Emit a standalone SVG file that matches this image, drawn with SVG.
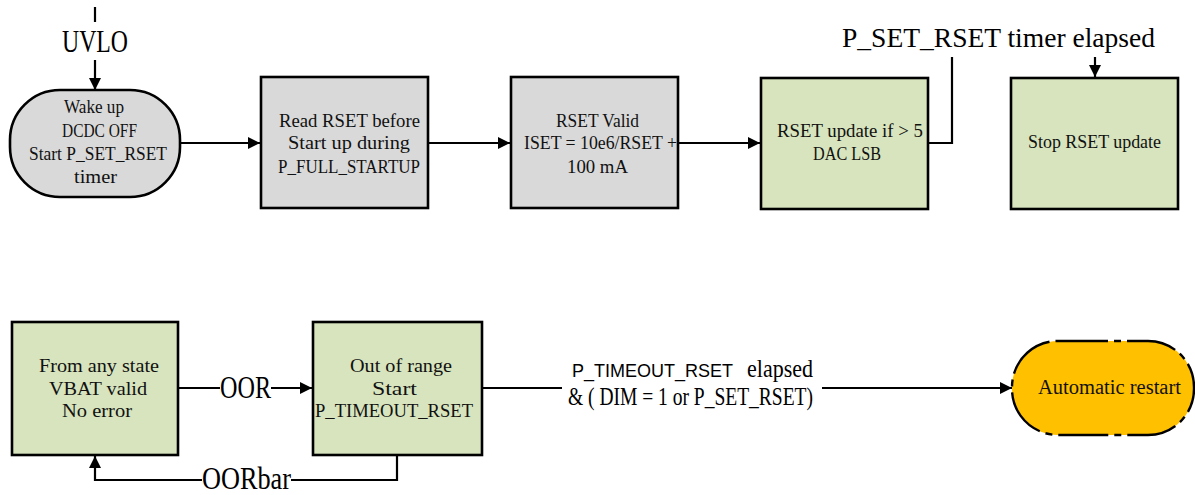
<svg xmlns="http://www.w3.org/2000/svg" width="1195" height="495" viewBox="0 0 1195 495">
<defs>
<marker id="ah" viewBox="0 0 12 12" refX="12" refY="6" markerWidth="12" markerHeight="12" markerUnits="userSpaceOnUse" orient="auto">
<path d="M0,0 L12,6 L0,12 z" fill="#000"/>
</marker>
<style>
.box{stroke:#000;stroke-width:2.6}
.grey{fill:#d9d9d9}
.green{fill:#d7e4bd}
.t{font-family:"Liberation Serif",serif;font-size:19px;fill:#111}
.big{font-family:"Liberation Serif",serif;font-size:32px;fill:#000}
.sans{font-family:"Liberation Sans",sans-serif;font-size:19px;fill:#000}
.mid{font-family:"Liberation Serif",serif;font-size:25px;fill:#000}
.c{fill:none;stroke:#000;stroke-width:2.2}
</style>
</defs>
<rect width="1195" height="495" fill="#fff"/>
<g id="connectors">
<line class="c" x1="95" y1="7" x2="95" y2="22"/>
<line class="c" x1="95" y1="60" x2="95" y2="90" marker-end="url(#ah)"/>
<line class="c" x1="180" y1="143" x2="260" y2="143" marker-end="url(#ah)"/>
<line class="c" x1="428" y1="143" x2="510" y2="143" marker-end="url(#ah)"/>
<line class="c" x1="678" y1="143" x2="760" y2="143" marker-end="url(#ah)"/>
<polyline class="c" points="928,143 952,143 952,57"/>
<line class="c" x1="1095" y1="57" x2="1095" y2="77" marker-end="url(#ah)"/>
<line class="c" x1="178" y1="388" x2="220" y2="388"/>
<line class="c" x1="271" y1="388" x2="312" y2="388" marker-end="url(#ah)"/>
<polyline class="c" points="397,455 397,480 291,480"/>
<polyline class="c" points="202,480 95,480 95,456" marker-end="url(#ah)"/>
<line class="c" x1="482" y1="388" x2="562" y2="388"/>
<line class="c" x1="822" y1="388" x2="1012" y2="388" marker-end="url(#ah)"/>
<text class="big" x="62" y="52" textLength="66" lengthAdjust="spacingAndGlyphs">UVLO</text>
<text x="998.5" y="47" text-anchor="middle" textLength="313" lengthAdjust="spacingAndGlyphs" style="font-family:'Liberation Serif',serif;font-size:28px;fill:#000">P_SET_RSET timer elapsed</text>
<text class="big" x="220" y="398" textLength="51" lengthAdjust="spacingAndGlyphs">OOR</text>
<text class="big" x="202" y="489" textLength="89" lengthAdjust="spacingAndGlyphs">OORbar</text>
<text class="sans" x="572" y="377" textLength="161" lengthAdjust="spacingAndGlyphs">P_TIMEOUT_RSET</text>
<text class="mid" x="747" y="377" textLength="66" lengthAdjust="spacingAndGlyphs">elapsed</text>
<text class="mid" x="568" y="405" textLength="245" lengthAdjust="spacingAndGlyphs">&amp; ( DIM = 1 or P_SET_RSET)</text>
</g>
<g id="n1">
<rect class="box grey" x="10" y="90" width="170" height="107" rx="50" ry="50"/>
<text class="t" x="64" y="113" textLength="60" lengthAdjust="spacingAndGlyphs">Wake up</text>
<text class="t" x="62" y="137" textLength="75" lengthAdjust="spacingAndGlyphs">DCDC OFF</text>
<text class="t" x="29" y="160" textLength="138" lengthAdjust="spacingAndGlyphs">Start P_SET_RSET</text>
<text class="t" x="74" y="183" textLength="43" lengthAdjust="spacingAndGlyphs">timer</text>
</g>
<g id="n2">
<rect class="box grey" x="261" y="77" width="167" height="131"/>
<text class="t" x="279" y="127" textLength="141" lengthAdjust="spacingAndGlyphs">Read RSET before</text>
<text class="t" x="288" y="149" textLength="122" lengthAdjust="spacingAndGlyphs">Start up during</text>
<text class="t" x="278" y="173" textLength="142" lengthAdjust="spacingAndGlyphs">P_FULL_STARTUP</text>
</g>
<g id="n3">
<rect class="box grey" x="511" y="77" width="167" height="131"/>
<text class="t" x="556" y="127" textLength="83" lengthAdjust="spacingAndGlyphs">RSET Valid</text>
<text class="t" x="524" y="149" textLength="153" lengthAdjust="spacingAndGlyphs">ISET = 10e6/RSET +</text>
<text class="t" x="567" y="173" textLength="61" lengthAdjust="spacingAndGlyphs">100 mA</text>
</g>
<g id="n4">
<rect class="box green" x="761" y="78" width="167" height="131"/>
<text class="t" x="777" y="137" textLength="146" lengthAdjust="spacingAndGlyphs">RSET update if &gt; 5</text>
<text class="t" x="813" y="160" textLength="68" lengthAdjust="spacingAndGlyphs">DAC LSB</text>
</g>
<g id="n5">
<rect class="box green" x="1011" y="78" width="167" height="131"/>
<text class="t" x="1028" y="148" textLength="133" lengthAdjust="spacingAndGlyphs">Stop RSET update</text>
</g>
<g id="n6">
<rect class="box green" x="12" y="322" width="166" height="133"/>
<text class="t" x="39" y="372" textLength="120" lengthAdjust="spacingAndGlyphs">From any state</text>
<text class="t" x="49" y="395" textLength="98" lengthAdjust="spacingAndGlyphs">VBAT valid</text>
<text class="t" x="62" y="417" textLength="70" lengthAdjust="spacingAndGlyphs">No error</text>
</g>
<g id="n7">
<rect class="box green" x="313" y="322" width="169" height="133"/>
<text class="t" x="350" y="372" textLength="102" lengthAdjust="spacingAndGlyphs">Out of range</text>
<text class="t" x="372" y="395" textLength="45" lengthAdjust="spacingAndGlyphs">Start</text>
<text class="t" x="315" y="417" textLength="158" lengthAdjust="spacingAndGlyphs">P_TIMEOUT_RSET</text>
</g>
<g id="n8">
<rect x="1012" y="341" width="182" height="94" rx="46" ry="46" fill="#ffc000" stroke="#000" stroke-width="2.4" stroke-dasharray="50,6,7,6"/>
<text x="1038" y="394" textLength="143" lengthAdjust="spacingAndGlyphs" style="font-family:'Liberation Serif',serif;font-size:20px;fill:#111">Automatic restart</text>
</g>
</svg>
